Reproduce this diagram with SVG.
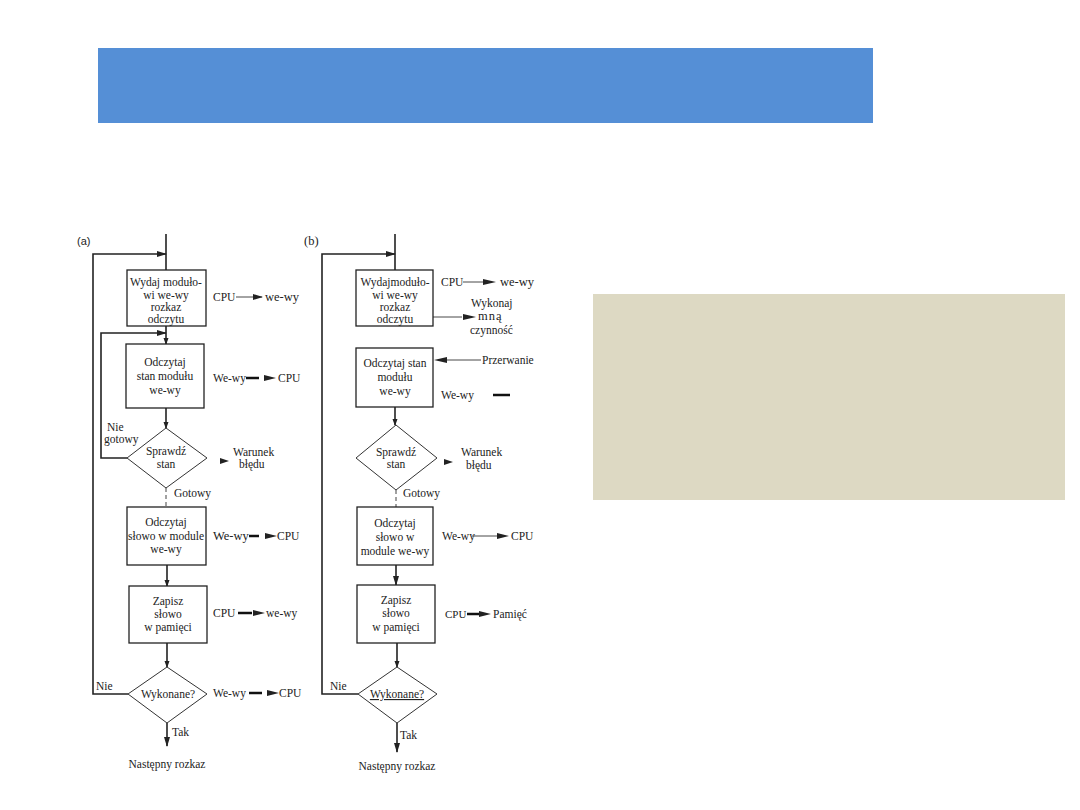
<svg xmlns="http://www.w3.org/2000/svg" width="1080" height="810" viewBox="0 0 1080 810">
<defs>
<marker id="ah" markerWidth="10" markerHeight="8" refX="9" refY="4" orient="auto" markerUnits="userSpaceOnUse"><path d="M0,1 L10,4 L0,7 Z" fill="#222"/></marker>
<marker id="ahs" markerWidth="7" markerHeight="6" refX="6" refY="3" orient="auto" markerUnits="userSpaceOnUse"><path d="M0,0.5 L7,3 L0,5.5 Z" fill="#222"/></marker>
<style>
.box{fill:#fff;stroke:#222;stroke-width:1.3}
.dia{fill:#fff;stroke:#333;stroke-width:1}
.ln{fill:none;stroke:#222;stroke-width:1.6}
.th{fill:none;stroke:#333;stroke-width:0.9}
.tk{fill:none;stroke:#111;stroke-width:2.5}
.tri{fill:#222}
.dash{fill:none;stroke:#444;stroke-width:1;stroke-dasharray:4 3}
text{font-family:"Liberation Serif","DejaVu Serif",serif;font-size:11.5px;fill:#222}
.c{text-anchor:middle}
.big{font-size:12.5px}
.sm{font-size:11px}
.sans{font-family:"Liberation Sans",Arial,sans-serif;font-size:11px}
</style>
</defs>
<rect width="1080" height="810" fill="#fff"/>
<rect id="header" x="98" y="48" width="775" height="75" fill="#558fd6"/>
<rect id="note" x="593" y="294" width="472" height="206" fill="#ddd9c3"/>

<g id="connectors">
<!-- (a) -->
<line class="ln" x1="166" y1="234" x2="166" y2="270"/>
<polyline class="ln" points="128,694 93,694 93,254 166,254" marker-end="url(#ah)"/>
<polyline class="ln" points="127,458 101,458 101,333 166,333" marker-end="url(#ah)"/>
<line class="ln" x1="166" y1="326" x2="166" y2="344" marker-end="url(#ahs)"/>
<line class="ln" x1="166" y1="408" x2="166" y2="428" marker-end="url(#ahs)"/>
<line class="dash" x1="166" y1="488" x2="166" y2="507"/>
<line class="ln" x1="167" y1="565" x2="167" y2="586" marker-end="url(#ahs)"/>
<line class="ln" x1="167" y1="643" x2="167" y2="667" marker-end="url(#ahs)"/>
<line class="ln" x1="167" y1="723" x2="167" y2="746" marker-end="url(#ah)"/>
<!-- (a) side arrows -->
<line class="th" x1="236" y1="297" x2="262" y2="297" marker-end="url(#ah)"/>
<line class="tk" x1="246" y1="378" x2="259" y2="378"/>
<path class="tri" d="M264,375 L276,378 L264,381 Z"/>
<path class="tri" d="M220,458 L229,461 L220,464 Z"/>
<line class="tk" x1="249" y1="536" x2="259" y2="536"/>
<path class="tri" d="M265,533 L277,536 L265,539 Z"/>
<line class="tk" x1="238" y1="613" x2="252" y2="613"/>
<path class="tri" d="M253,610 L265,613 L253,616 Z"/>
<line class="tk" x1="249" y1="693" x2="262" y2="693"/>
<path class="tri" d="M267,690 L279,693 L267,696 Z"/>
<!-- (b) -->
<line class="ln" x1="395" y1="234" x2="395" y2="270"/>
<polyline class="ln" points="358,694 322,694 322,254 395,254" marker-end="url(#ah)"/>
<line class="ln" x1="395" y1="407" x2="395" y2="425" marker-end="url(#ahs)"/>
<line class="dash" x1="396" y1="490" x2="396" y2="507"/>
<line class="ln" x1="396" y1="565" x2="396" y2="585" marker-end="url(#ah)"/>
<line class="ln" x1="397" y1="643" x2="397" y2="667" marker-end="url(#ahs)"/>
<line class="ln" x1="397" y1="723" x2="397" y2="752" marker-end="url(#ah)"/>
<!-- (b) side arrows -->
<line class="th" x1="463" y1="282" x2="483" y2="282"/>
<path class="tri" d="M483,279 L496,282 L483,285 Z"/>
<line class="th" x1="433" y1="317" x2="462" y2="317"/>
<path class="tri" d="M463,314 L476,317 L463,320 Z"/>
<line class="th" x1="481" y1="360" x2="446" y2="360"/>
<path class="tri" d="M447,357 L434,360 L447,363 Z"/>
<line class="tk" x1="493" y1="395" x2="510" y2="395"/>
<path class="tri" d="M444,459 L453,462 L444,465 Z"/>
<line class="th" x1="472" y1="536" x2="497" y2="536"/>
<path class="tri" d="M497,533 L509,536 L497,539 Z"/>
<line class="tk" x1="467" y1="614" x2="479" y2="614"/>
<path class="tri" d="M479,611 L491,614 L479,617 Z"/>
</g>

<g id="labels">
<text class="sans" x="77" y="245">(a)</text>
<text x="304" y="245" class="big">(b)</text>
<text x="107" y="431">Nie</text>
<text x="104" y="443">gotowy</text>
<text x="174" y="497">Gotowy</text>
<text x="96" y="690">Nie</text>
<text x="172" y="736">Tak</text>
<text class="c" x="167" y="768">Następny rozkaz</text>
<text x="213" y="301">CPU</text>
<text x="265" y="301" class="big">we-wy</text>
<text x="213" y="382">We-wy</text>
<text x="278" y="382">CPU</text>
<text x="233" y="456">Warunek</text>
<text x="239" y="468">błędu</text>
<text x="213" y="540" class="big">We-wy</text>
<text x="277" y="540">CPU</text>
<text x="213" y="617">CPU</text>
<text x="266" y="617">we-wy</text>
<text x="213" y="697">We-wy</text>
<text x="279" y="697">CPU</text>

<text x="403" y="497">Gotowy</text>
<text x="330" y="690">Nie</text>
<text x="400" y="739">Tak</text>
<text class="c" x="397" y="770">Następny rozkaz</text>
<text x="441" y="286">CPU</text>
<text x="500" y="286" class="big">we-wy</text>
<text x="471" y="307">Wykonaj</text>
<text x="478" y="320" class="big" letter-spacing="1">mną</text>
<text x="470" y="334">czynność</text>
<text x="482" y="364">Przerwanie</text>
<text x="441" y="399">We-wy</text>
<text x="461" y="456">Warunek</text>
<text x="466" y="469">błędu</text>
<text x="442" y="540">We-wy</text>
<text x="511" y="540">CPU</text>
<text x="445" y="618" class="sm">CPU</text>
<text x="493" y="618">Pamięć</text>
</g>

<g id="a-box1"><rect class="box" x="127" y="270" width="79" height="56"/>
<text class="c" x="166" y="286">Wydaj moduło-</text><text class="c" x="166" y="299">wi we-wy</text><text class="c" x="166" y="311">rozkaz</text><text class="c" x="166" y="323">odczytu</text></g>
<g id="a-box2"><rect class="box" x="126" y="344" width="78" height="64"/>
<text class="c" x="165" y="366">Odczytaj</text><text class="c" x="165" y="380">stan modułu</text><text class="c" x="165" y="394">we-wy</text></g>
<g id="a-dia1"><polygon class="dia" points="166,428 207,458 166,488 127,458"/>
<text class="c" x="166" y="455">Sprawdź</text><text class="c" x="166" y="468">stan</text></g>
<g id="a-box3"><rect class="box" x="127" y="507" width="79" height="58"/>
<text class="c" x="166" y="526">Odczytaj</text><text class="c" x="166" y="540">słowo w module</text><text class="c" x="166" y="553">we-wy</text></g>
<g id="a-box4"><rect class="box" x="129" y="586" width="78" height="57"/>
<text class="c" x="168" y="605">Zapisz</text><text class="c" x="168" y="618">słowo</text><text class="c" x="168" y="631">w pamięci</text></g>
<g id="a-dia2"><polygon class="dia" points="167,667 207,694 167,723 128,694"/>
<text class="c" x="168" y="698">Wykonane?</text></g>

<g id="b-box1"><rect class="box" x="356" y="270" width="77" height="56"/>
<text class="c" x="395" y="286">Wydajmoduło-</text><text class="c" x="395" y="299">wi we-wy</text><text class="c" x="395" y="311">rozkaz</text><text class="c" x="395" y="323">odczytu</text></g>
<g id="b-box2"><rect class="box" x="356" y="348" width="77" height="59"/>
<text class="c" x="395" y="367">Odczytaj stan</text><text class="c" x="395" y="381">modułu</text><text class="c" x="395" y="395">we-wy</text></g>
<g id="b-dia1"><polygon class="dia" points="396,425 437,458 396,490 356,458"/>
<text class="c" x="396" y="456">Sprawdź</text><text class="c" x="396" y="468">stan</text></g>
<g id="b-box3"><rect class="box" x="357" y="507" width="76" height="58"/>
<text class="c" x="395" y="527">Odczytaj</text><text class="c" x="395" y="541">słowo w</text><text class="c" x="395" y="555">module  we-wy</text></g>
<g id="b-box4"><rect class="box" x="357" y="585" width="78" height="58"/>
<text class="c" x="396" y="604">Zapisz</text><text class="c" x="396" y="617">słowo</text><text class="c" x="396" y="631">w pamięci</text></g>
<g id="b-dia2"><polygon class="dia" points="397,667 437,694 397,723 358,694"/>
<text class="c" x="397" y="698" text-decoration="underline">Wykonane?</text></g>
</svg>
